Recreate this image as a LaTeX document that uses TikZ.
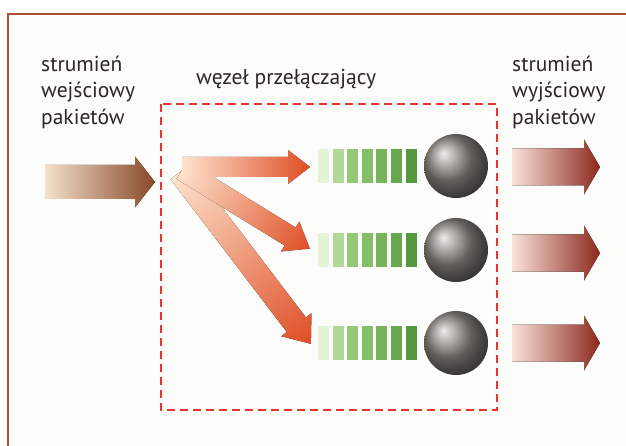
\documentclass[tikz,border=0pt]{standalone}
\usepackage{fontspec}
\setmainfont{PT Sans}
\definecolor{framec}{RGB}{172,80,58}
\definecolor{dashc}{RGB}{234,52,48}
\definecolor{fanend}{RGB}{222,78,38}
\definecolor{fanmid}{RGB}{238,122,70}
\definecolor{fanstart}{RGB}{253,226,204}
\definecolor{inend}{RGB}{136,72,40}
\definecolor{instart}{RGB}{244,224,204}
\definecolor{outend}{RGB}{140,40,30}
\definecolor{outstart}{RGB}{250,226,218}
\definecolor{txtc}{RGB}{45,38,38}
\definecolor{g0}{RGB}{228,242,214}
\definecolor{g1}{RGB}{178,216,150}
\definecolor{g2}{RGB}{148,200,118}
\definecolor{g3}{RGB}{132,190,102}
\definecolor{g4}{RGB}{118,180,90}
\definecolor{g5}{RGB}{102,168,78}
\definecolor{g6}{RGB}{84,152,64}
\definecolor{ballc}{RGB}{140,136,130}
\newcommand\pktarrow[4]{(0,-#2/2) -- (#1-#4,-#2/2) -- (#1-#4,-#3/2) -- (#1,0) -- (#1-#4,#3/2) -- (#1-#4,#2/2) -- (0,#2/2) -- cycle}
\begin{document}
\begin{tikzpicture}[x=1pt,y=-1pt,
  lbl/.style={font=\fontsize{21.5}{26}\selectfont, text=txtc, align=left, inner sep=0pt},
  fanarrow/.style={left color=fanstart, middle color=fanmid, right color=fanend},
  inarrow/.style={left color=instart, right color=inend},
  outarrow/.style={left color=outstart, right color=outend},
  bar/.style={minimum width=11pt, minimum height=34pt, inner sep=0pt, draw=none},
  ballnode/.style={circle, minimum size=64pt, inner sep=0pt, shading=ball, ball color=ballc}]
\useasboundingbox (0,0) rectangle (626,446);
\clip (0,0) rectangle (626,446);
\fill[white] (0,0) rectangle (626,446);
% frame
\draw[framec, line width=2pt, fill={rgb,255:red,252;green,252;blue,250}] (8,14) rectangle (660,480);
% texts
\node[lbl, anchor=base west] (in1) at (41,72) {strumień};
\node[lbl, anchor=base west] (in2) at (41,98) {wejściowy};
\node[lbl, anchor=base west] (in3) at (41,125) {pakietów};
\node[lbl, anchor=base west] (title) at (196,85) {węzeł przełączający};
\node[lbl, anchor=base west] (out1) at (512,72) {strumień};
\node[lbl, anchor=base west] (out2) at (512,98) {wyjściowy};
\node[lbl, anchor=base west] (out3) at (512,125) {pakietów};
% dashed switch box
\draw[dashc, line width=2.4pt, dash pattern=on 8pt off 5pt] (161,104) rectangle (497,410);
% input arrow
\begin{scope}[shift={(45,182)}]
\fill[inarrow] \pktarrow{110}{34}{51}{20};
\end{scope}
% fan arrows
\begin{scope}[transform canvas={shift={(180,172)}, rotate=-52.7}]
\fill[fanarrow] \pktarrow{216}{24}{38}{24};
\end{scope}
\begin{scope}[transform canvas={shift={(182,170)}, rotate=-31.6}]
\fill[fanarrow] \pktarrow{150}{21}{35}{23};
\end{scope}
\begin{scope}[transform canvas={shift={(182,167)}}]
\fill[fanarrow] \pktarrow{128}{20}{34}{22};
\end{scope}
% queues
\foreach \r/\y in {1/166, 2/250, 3/343}{
  \foreach \k/\c in {0/g0, 1/g1, 2/g2, 3/g3, 4/g4, 5/g5, 6/g6}{
    \node[bar, fill=\c] (q\r\k) at (323.5+\k*14.6,\y) {};
  }
  \node[ballnode] (s\r) at (456,\y) {};
}
% output arrows
\begin{scope}[shift={(512,167)}]
\fill[outarrow] \pktarrow{88}{37}{55}{16};
\end{scope}
\begin{scope}[shift={(512,253)}]
\fill[outarrow] \pktarrow{88}{37}{55}{16};
\end{scope}
\begin{scope}[shift={(512,343)}]
\fill[outarrow] \pktarrow{88}{37}{55}{16};
\end{scope}
\end{tikzpicture}
\end{document}
